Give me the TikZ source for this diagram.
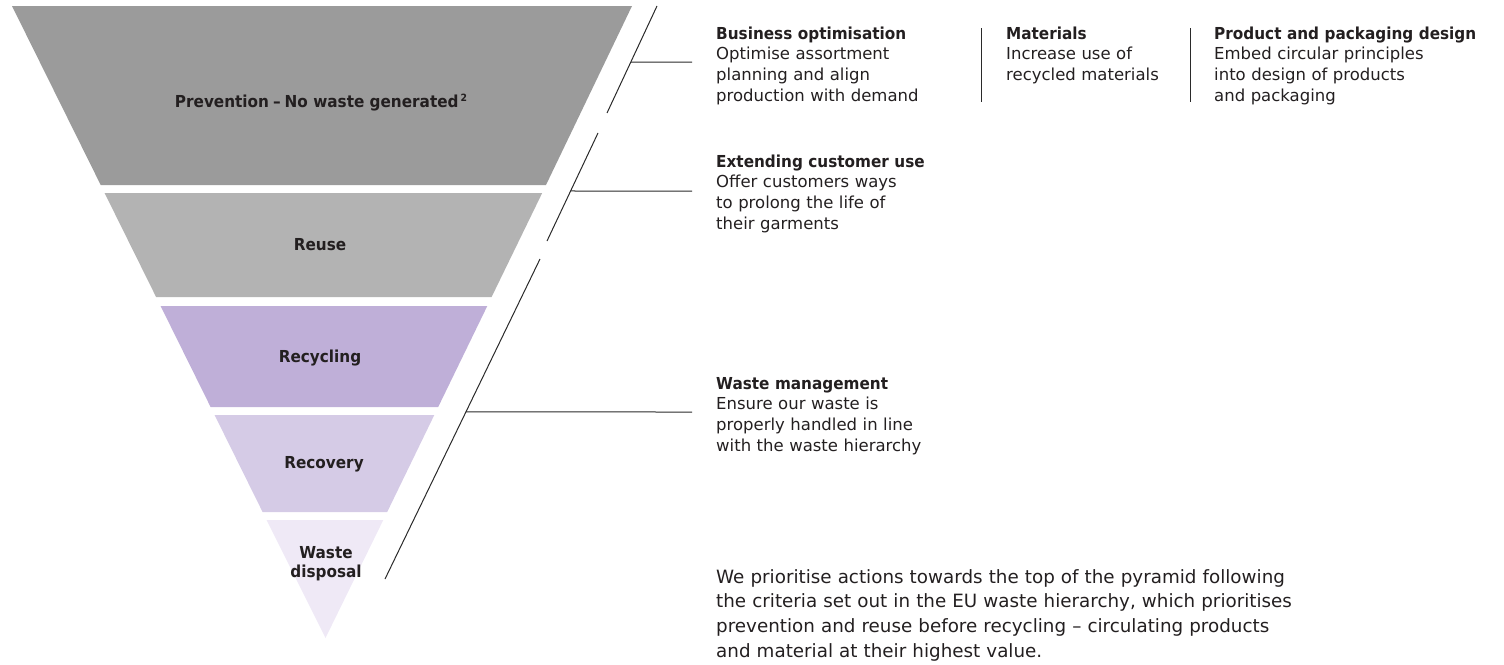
\documentclass[tikz,border=0pt]{standalone}
\usepackage{fontspec}
\setmainfont{DejaVu Sans}[BoldFeatures={FakeStretch=0.925}]
\usetikzlibrary{calc}

\definecolor{tierone}{HTML}{9B9B9B}
\definecolor{tiertwo}{HTML}{B3B3B3}
\definecolor{tierthree}{HTML}{BFAFD8}
\definecolor{tierfour}{HTML}{D5CBE6}
\definecolor{tierfive}{HTML}{EFE9F6}
\definecolor{ink}{HTML}{231F20}
\definecolor{rulegray}{HTML}{2A2A2A}

\begin{document}
\begin{tikzpicture}[x=1pt, y=-1pt,
  tierlabel/.style={anchor=base, inner sep=0pt, text=ink,
    font=\bfseries\fontsize{16.5}{19}\selectfont},
  block/.style={anchor=base west, inner sep=0pt, text=ink, align=left,
    text width=290pt, font=\fontsize{16.5}{20.8}\selectfont},
  summary/.style={anchor=base west, inner sep=0pt, text=ink, align=left,
    text width=640pt, font=\fontsize{18.3}{24.7}\selectfont},
  link/.style={draw=rulegray, line width=1pt},
  divider/.style={draw=rulegray, line width=1pt}]

\useasboundingbox (0,0) rectangle (1504,664);

% --- waste hierarchy pyramid, widest tier on top ---
\fill[tierone]   (12,6) -- (632,6) -- (546,185) -- (100.7,185) -- cycle;
\fill[tiertwo]   (104.6,193) -- (542.2,193) -- (491.6,297) -- (156.1,297) -- cycle;
\fill[tierthree] (160.6,306) -- (487.3,306) -- (438.2,407) -- (210.6,407) -- cycle;
\fill[tierfour]  (214.6,415) -- (434.3,415) -- (387.2,512) -- (262.6,512) -- cycle;
\fill[tierfive]  (266.6,520) -- (383.3,520) -- (325.5,638) -- cycle;

\node[tierlabel] (prevention) at (321,107)
  {Prevention\hspace{4pt}–\hspace{4pt}No waste generated\hspace{2pt}\raisebox{6pt}{\fontsize{10}{10}\selectfont 2}};
\node[tierlabel] (reuse) at (320,250) {Reuse};
\node[tierlabel] (recycling) at (320,362) {Recycling};
\node[tierlabel] (recovery) at (324,468) {Recovery};
\node[tierlabel, text width=120pt, align=center] (disposal) at (326,558)
  {Waste\\disposal};

% --- bracket lines beside the pyramid ---
\coordinate (bka) at (657,6);
\coordinate (bkb) at (607,113);
\coordinate (bkc) at (598,133);
\coordinate (bkd) at (547,241);
\coordinate (bke) at (540,259);
\coordinate (bkf) at (385,579);
\draw[link] (bka) -- (bkb);
\draw[link] (bkc) -- (bkd);
\draw[link] (bke) -- (bkf);

\coordinate (tapone)   at ($(bka)!0.5234!(bkb)$);
\coordinate (taptwo)   at ($(bkc)!0.537!(bkd)$);
\coordinate (tapthree) at ($(bke)!0.478!(bkf)$);
\coordinate (endone)   at (692,62);
\coordinate (endtwo)   at (692,191);
\coordinate (endthree) at (692,412);
\draw[link] (tapone) -- (endone);
\draw[link] (taptwo) -- (endtwo);
\draw[link] (tapthree) -- (endthree);

% --- action areas ---
\node[block] (bizopt) at (716,39)
  {\textbf{Business optimisation}\\Optimise assortment\\planning and align\\production with demand};
\node[block] (materials) at (1006,39)
  {\textbf{Materials}\\Increase use of\\recycled materials};
\node[block] (design) at (1214,39)
  {\textbf{Product and packaging design}\\Embed circular principles\\into design of products\\and packaging};

\coordinate (divatop) at (981,28);
\coordinate (divabot) at (981,102);
\coordinate (divbtop) at (1190,28);
\coordinate (divbbot) at (1190,102);
\draw[divider] (divatop) -- (divabot);
\draw[divider] (divbtop) -- (divbbot);

\node[block] (customeruse) at (716,167)
  {\textbf{Extending customer use}\\Offer customers ways\\to prolong the life of\\their garments};
\node[block] (wastemgmt) at (716,389)
  {\textbf{Waste management}\\Ensure our waste is\\properly handled in line\\with the waste hierarchy};

\node[summary] (note) at (716,583)
  {We prioritise actions towards the top of the pyramid following\\
   the criteria set out in the EU waste hierarchy, which prioritises\\
   prevention and reuse before recycling – circulating products\\
   and material at their highest value.};

\end{tikzpicture}
\end{document}
